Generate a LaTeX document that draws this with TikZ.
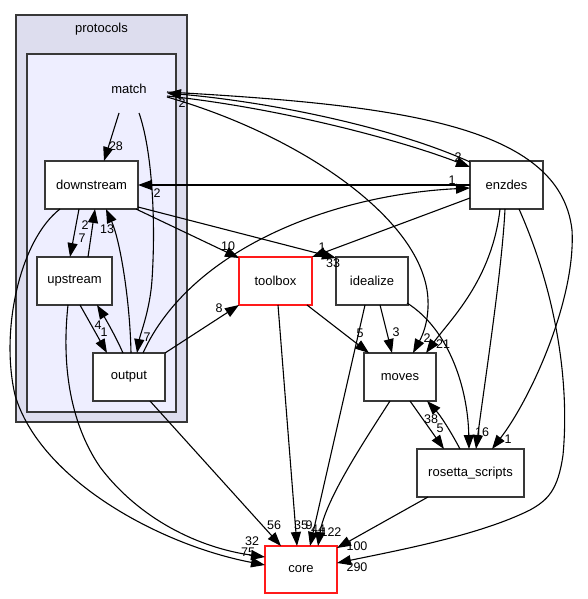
\documentclass[tikz,border=0pt]{standalone}
\usepackage{fontspec}
\setmainfont{Liberation Sans}
\usetikzlibrary{arrows.meta,calc}
\definecolor{outerc}{HTML}{DDDDEE}
\definecolor{innerc}{HTML}{EEEEFF}
\definecolor{bord}{HTML}{383838}
\definecolor{redb}{HTML}{FF1A1A}
\begin{document}
\begin{tikzpicture}[x=1pt,y=-1pt,
  cluster/.style={draw=bord,line width=1.3pt,inner sep=0pt},
  dirbox/.style={draw=bord,line width=1.3pt,fill=white,minimum height=48pt,inner sep=0pt,font=\fontsize{13}{15}\selectfont},
  redbox/.style={dirbox,draw=redb},
  plain/.style={inner sep=0pt,font=\fontsize{13}{15}\selectfont},
  lbl/.style={inner sep=0pt,font=\fontsize{12.5}{14}\selectfont},
  dep/.style={draw=black,line width=1.1pt,-{Triangle[length=14pt,width=10pt]}}]
\useasboundingbox (0,0) rectangle (587,599);
% clusters
\node[cluster,fill=outerc,minimum width=171pt,minimum height=407pt] (protocols) at (101.5,218.5) {};
\node[plain] (protocolslbl) at (101.5,29) {protocols};
\node[cluster,fill=innerc,minimum width=149pt,minimum height=358pt] (matchcl) at (101.5,233) {};
\node[plain] (match) at (129,89) {match};
% nodes
\node[dirbox,minimum width=93pt] (downstream) at (91.5,185) {downstream};
\node[dirbox,minimum width=75pt] (upstream) at (74.5,281) {upstream};
\node[dirbox,minimum width=72pt] (output) at (129,377) {output};
\node[redbox,minimum width=73pt] (toolbox) at (275.5,281) {toolbox};
\node[dirbox,minimum width=72pt] (idealize) at (372,281) {idealize};
\node[dirbox,minimum width=73pt] (enzdes) at (506.5,185) {enzdes};
\node[dirbox,minimum width=72pt] (moves) at (400,377) {moves};
\node[dirbox,minimum width=107pt] (rosetta) at (470.5,473) {rosetta\_scripts};
\node[redbox,minimum width=72pt,minimum height=47pt] (core) at (301,569.5) {core};
% edges
\draw[dep] ($(match)+(-10,24)$) -- ($(downstream)+(12.5,-24)$);
\draw[dep] ($(match)+(10,24)$) .. controls (152,150) and (156,220) .. (152,280) .. controls (150,310) and (140,335) .. ($(output)+(8,-24)$);
\draw[dep] ($(downstream)+(-12.5,24)$) -- ($(upstream)+(-4.5,-24)$);
\draw[dep] ($(upstream)+(13.5,-24)$) -- ($(downstream)+(3.5,24)$);
\draw[dep] ($(upstream)+(5.5,24)$) -- ($(output)+(-22,-24)$);
\draw[dep] ($(output)+(-6,-24)$) .. controls (115,335) and (105,318) .. ($(upstream)+(22.5,24)$);
\draw[dep] ($(output)+(2,-24)$) .. controls (130,300) and (120,240) .. ($(downstream)+(14.5,24)$);
\draw[dep] ($(downstream)+(44.5,24)$) -- ($(toolbox)+(-36.5,-23)$);
\draw[dep] ($(downstream)+(46.5,22)$) -- ($(idealize)+(-36,-23)$);
\draw[dep] ($(enzdes)+(-36.5,13)$) -- ($(toolbox)+(36.5,-24)$);
\draw[dep] ($(output)+(36,-24)$) -- ($(toolbox)+(-36.5,24)$);
\draw[dep] ($(output)+(14,-24)$) .. controls (190,250) and (330,195) .. ($(enzdes)+(-36.5,3)$);
\draw[dep] ($(enzdes)+(-36.5,0)$) -- ($(downstream)+(46.5,0)$);
\draw[dep] ($(enzdes)+(-36.5,-23)$) .. controls (400,130) and (280,103) .. ($(match)+(38,4)$);
\draw[dep] ($(match)+(38,7)$) .. controls (280,108) and (400,140) .. ($(enzdes)+(-36.5,-18)$);
\draw[dep] ($(match)+(38,3)$) .. controls (400,105) and (560,125) .. (572,230) .. controls (576,300) and (530,400) .. ($(rosetta)+(21.5,-24)$);
\draw[dep] ($(match)+(38,8)$) .. controls (300,135) and (425,220) .. (428,300) .. controls (429,325) and (420,340) .. ($(moves)+(13,-24)$);
\draw[dep] ($(toolbox)+(31.5,24)$) -- ($(moves)+(-31,-24)$);
\draw[dep] ($(idealize)+(8,24)$) -- ($(moves)+(-8,-24)$);
\draw[dep] ($(enzdes)+(-6.5,24)$) .. controls (492,280) and (450,320) .. ($(moves)+(26,-24)$);
\draw[dep] ($(enzdes)+(-1.5,24)$) .. controls (502,270) and (485,380) .. ($(rosetta)+(5.5,-24)$);
\draw[dep] ($(idealize)+(35,22)$) .. controls (450,330) and (468,390) .. ($(rosetta)+(-1.5,-24)$);
\draw[dep] ($(moves)+(10,24)$) -- ($(rosetta)+(-26.5,-24)$);
\draw[dep] ($(rosetta)+(-10.5,-24)$) .. controls (450,430) and (440,415) .. ($(moves)+(27,24)$);
\draw[dep] ($(enzdes)+(12.5,24)$) .. controls (555,290) and (570,380) .. (563,455) .. controls (558,490) and (548,500) .. (530,510) .. controls (480,535) and (400,550) .. ($(core)+(36,-6.5)$);
\draw[dep] ($(rosetta)+(-42.5,24)$) -- ($(core)+(36,-21.5)$);
\draw[dep] ($(moves)+(-10,24)$) .. controls (365,440) and (325,500) .. ($(core)+(17,-23.5)$);
\draw[dep] ($(idealize)+(-7,24)$) -- ($(core)+(9,-23.5)$);
\draw[dep] ($(toolbox)+(2.5,24)$) -- ($(core)+(-4,-23.5)$);
\draw[dep] ($(output)+(21,24)$) -- ($(core)+(-20,-23.5)$);
\draw[dep] ($(downstream)+(-31.5,24)$) .. controls (20,240) and (0,330) .. (15,395) .. controls (40,480) and (160,545) .. ($(core)+(-36,-4.5)$);
\draw[dep] ($(upstream)+(-6.5,24)$) .. controls (62,360) and (68,420) .. (100,467) .. controls (140,520) and (200,548) .. ($(core)+(-36,-12.5)$);
% labels
\node[lbl] (l28) at (116,146) {28};
\node[lbl] (l7a) at (147,337) {7};
\node[lbl] (l2a) at (182,103) {2};
\node[lbl] (l2b) at (157,193) {2};
\node[lbl] (l2c) at (85,225) {2};
\node[lbl] (l7b) at (82,238) {7};
\node[lbl] (l13) at (107,229) {13};
\node[lbl] (l4) at (98,325) {4};
\node[lbl] (l1a) at (104,332) {1};
\node[lbl] (l10) at (228,246) {10};
\node[lbl] (l8) at (219,308) {8};
\node[lbl] (l1b) at (322,247) {1};
\node[lbl] (l33) at (333,263) {33};
\node[lbl] (l2d) at (458,157) {2};
\node[lbl] (l1c) at (452,180) {1};
\node[lbl] (l5a) at (360,333) {5};
\node[lbl] (l3) at (396,332) {3};
\node[lbl] (l2e) at (427,338) {2};
\node[lbl] (l21) at (443,344) {21};
\node[lbl] (l38) at (431,419) {38};
\node[lbl] (l5b) at (440,428) {5};
\node[lbl] (l16) at (482,432) {16};
\node[lbl] (l1d) at (508,439) {1};
\node[lbl] (l56) at (274,525) {56};
\node[lbl] (l32) at (252,541) {32};
\node[lbl] (l75) at (248,552) {75};
\node[lbl] (l35) at (301,525) {35};
\node[lbl] (l9) at (309,525) {9};
\node[lbl] (l44) at (318,529) {44};
\node[lbl] (l122) at (331,532) {122};
\node[lbl] (l100) at (357,546) {100};
\node[lbl] (l290) at (357,567) {290};
\end{tikzpicture}
\end{document}
